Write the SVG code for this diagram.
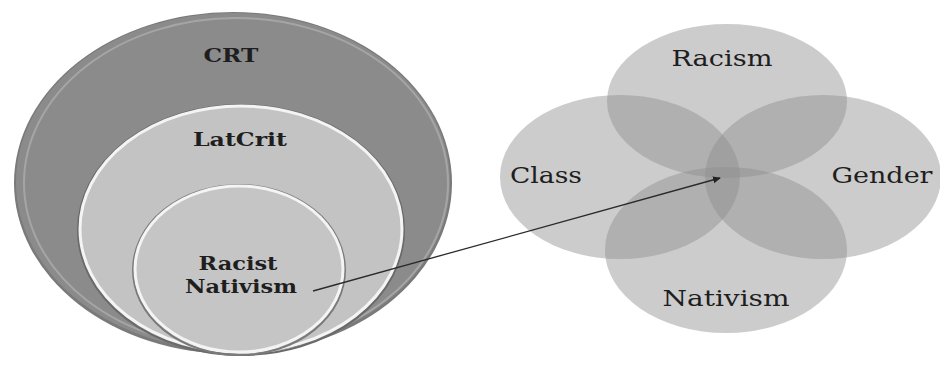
<svg xmlns="http://www.w3.org/2000/svg" width="940" height="368" viewBox="0 0 940 368">
<defs>
<style>
.lbl{font-family:"DejaVu Serif","Liberation Serif",serif;fill:#1e1e1e}
.b{font-weight:bold}
.venn{fill:#8f8f8f;fill-opacity:0.45}
</style>
<marker id="ah" markerWidth="8" markerHeight="8" refX="7" refY="4" orient="auto" markerUnits="userSpaceOnUse">
<path d="M0,0.5 L8,4 L0,7.5 Z" fill="#222"/>
</marker>
</defs>
<rect width="940" height="368" fill="#ffffff"/>
<g id="crt">
<ellipse cx="233" cy="183" rx="219" ry="171" fill="#7a7a7a"/>
<ellipse cx="233" cy="182" rx="217" ry="169" fill="#8b8b8b"/>
<ellipse cx="236" cy="183" rx="212" ry="165" fill="none" stroke="#b0b0b0" stroke-width="2" opacity="0.7"/>
<text class="lbl b" x="231" y="62" font-size="19" text-anchor="middle" textLength="55" lengthAdjust="spacingAndGlyphs">CRT</text>
</g>
<g id="latcrit">
<ellipse cx="241" cy="230" rx="163" ry="125" fill="none" stroke="#6a6a6a" stroke-width="2"/>
<ellipse cx="241" cy="229" rx="161" ry="123" fill="#c3c3c3" stroke="#f4f4f4" stroke-width="3"/>
<text class="lbl b" x="240" y="146" font-size="19" text-anchor="middle" textLength="94" lengthAdjust="spacingAndGlyphs">LatCrit</text>
</g>
<g id="racist-nativism">
<ellipse cx="239" cy="270" rx="106" ry="85" fill="none" stroke="#7a7a7a" stroke-width="2"/>
<ellipse cx="239" cy="269" rx="104" ry="83" fill="#c5c5c5" stroke="#f4f4f4" stroke-width="3"/>
<text class="lbl b" x="238" y="270" font-size="18" text-anchor="middle" textLength="79" lengthAdjust="spacingAndGlyphs">Racist</text>
<text class="lbl b" x="241" y="293" font-size="18" text-anchor="middle" textLength="112" lengthAdjust="spacingAndGlyphs">Nativism</text>
</g>
<g id="racism">
<ellipse class="venn" cx="727" cy="101" rx="120" ry="77"/>
<text class="lbl" x="722" y="66" font-size="22" text-anchor="middle" textLength="101" lengthAdjust="spacingAndGlyphs">Racism</text>
</g>
<g id="class">
<ellipse class="venn" cx="620" cy="177" rx="120" ry="82"/>
<text class="lbl" x="546" y="183" font-size="22" text-anchor="middle" textLength="72" lengthAdjust="spacingAndGlyphs">Class</text>
</g>
<g id="gender">
<ellipse class="venn" cx="823" cy="177" rx="118" ry="82"/>
<text class="lbl" x="882" y="183" font-size="22" text-anchor="middle" textLength="101" lengthAdjust="spacingAndGlyphs">Gender</text>
</g>
<g id="nativism">
<ellipse class="venn" cx="726" cy="250" rx="121" ry="83"/>
<text class="lbl" x="726" y="306" font-size="22" text-anchor="middle" textLength="127" lengthAdjust="spacingAndGlyphs">Nativism</text>
</g>
<g id="connectors">
<line x1="313" y1="291" x2="720" y2="178" stroke="#2a2a2a" stroke-width="1.3" marker-end="url(#ah)"/>
</g>
</svg>
